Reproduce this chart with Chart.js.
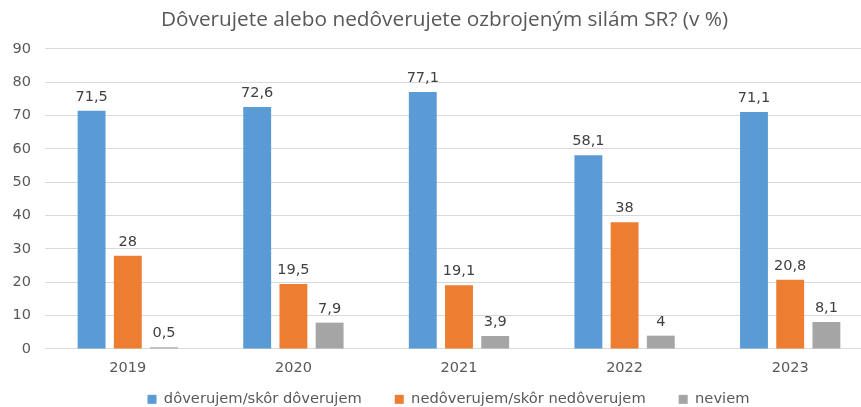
<!DOCTYPE html>
<html>
<head>
<meta charset="utf-8">
<script src="https://cdn.jsdelivr.net/npm/chart.js@4/dist/chart.umd.min.js"></script>
<style>
    html, body { margin: 0; padding: 0; background: #fff; overflow: hidden; }
    #wrap { width: 873px; height: 407px; position: relative; }
</style>
</head>
<body>
<div id="wrap"><canvas id="chart"></canvas></div>
<script>
// Data
const years = ['2019', '2020', '2021', '2022', '2023'];
const trustValues = [71.5, 72.6, 77.1, 58.1, 71.1];
const distrustValues = [28, 19.5, 19.1, 38, 20.8];
const dontKnowValues = [0.5, 7.9, 3.9, 4, 8.1];
const seriesNames = ['dôverujem/skôr dôverujem', 'nedôverujem/skôr nedôverujem', 'neviem'];
const yTicks = [0, 10, 20, 30, 40, 50, 60, 70, 80, 90];

const textColor = '#595959';
const labelFont = '"DejaVu Sans", Verdana, sans-serif';

// Draw the value above each bar (decimal comma like the original)
const valueLabels = {
    id: 'valueLabels',
    afterDatasetsDraw(chart) {
        const ctx = chart.ctx;
        ctx.save();
        ctx.font = '14.5px ' + labelFont;
        ctx.fillStyle = '#404040';
        ctx.textAlign = 'center';
        ctx.textBaseline = 'alphabetic';
        chart.data.datasets.forEach((ds, i) => {
            const meta = chart.getDatasetMeta(i);
            meta.data.forEach((bar, j) => {
                const txt = String(ds.data[j]).replace('.', ',');
                ctx.fillText(txt, bar.x, bar.y - 10);
            });
        });
        ctx.restore();
    }
};

// Legend needs wide gaps between items but a short box; also nudge title/legend
// a bit right since the canvas is wider than the window
const legendTweak = {
    id: 'legendTweak',
    afterInit(chart) {
        const lg = chart.legend;
        if (!lg || lg._fixedFit) return;
        const origFit = lg.fit.bind(lg);
        lg.fit = function () {
            origFit();
            this.height = 28;
        };
        lg._fixedFit = true;
    },
    afterLayout(chart) {
        const lg = chart.legend;
        lg.top -= 20;           // bottom stays at canvas edge so nothing is clipped
        lg.left += 12;
        lg.right += 12;
        const t = chart.titleBlock;
        if (t) { t.left += 8; t.right += 8; }
    }
};

const ctx = document.getElementById('chart').getContext('2d');
const chart = new Chart(ctx, {
    type: 'bar',
    data: {
        labels: years,
        datasets: [
            { label: seriesNames[0], data: trustValues, backgroundColor: '#5B9BD5' },
            { label: seriesNames[1], data: distrustValues, backgroundColor: '#ED7D31' },
            { label: seriesNames[2], data: dontKnowValues, backgroundColor: '#A5A5A5' }
        ]
    },
    plugins: [valueLabels, legendTweak],
    options: {
        responsive: true,
        maintainAspectRatio: false,
        animation: false,
        datasets: {
            bar: { categoryPercentage: 0.656, barPercentage: 0.77 }
        },
        layout: { padding: 0 },
        plugins: {
            title: {
                display: true,
                text: 'Dôverujete alebo nedôverujete ozbrojeným silám SR? (v %)',
                color: textColor,
                font: { family: '"Open Sans", sans-serif', size: 20.8, weight: 'normal', lineHeight: 1.2 },
                padding: { top: 8, bottom: 16 }
            },
            legend: {
                position: 'bottom',
                labels: {
                    color: textColor,
                    font: { family: labelFont, size: 14.7 },
                    boxWidth: 9,
                    boxHeight: 9,
                    padding: 33
                }
            },
            tooltip: { enabled: false }
        },
        scales: {
            x: {
                grid: { display: false, drawTicks: false },
                border: { color: '#d9d9d9' },
                ticks: { color: textColor, font: { family: labelFont, size: 14.5 }, padding: 11 },
                afterFit(scale) { scale.height = 30; }
            },
            y: {
                min: 0,
                max: 90,
                afterBuildTicks(scale) { scale.ticks = yTicks.map(v => ({ value: v })); },
                grid: { color: '#d9d9d9', drawTicks: false },
                border: { display: false },
                ticks: { color: textColor, font: { family: labelFont, size: 14.5 }, padding: 14 },
                afterFit(scale) { scale.width = 45; }
            }
        }
    }
});
</script>
</body>
</html>
